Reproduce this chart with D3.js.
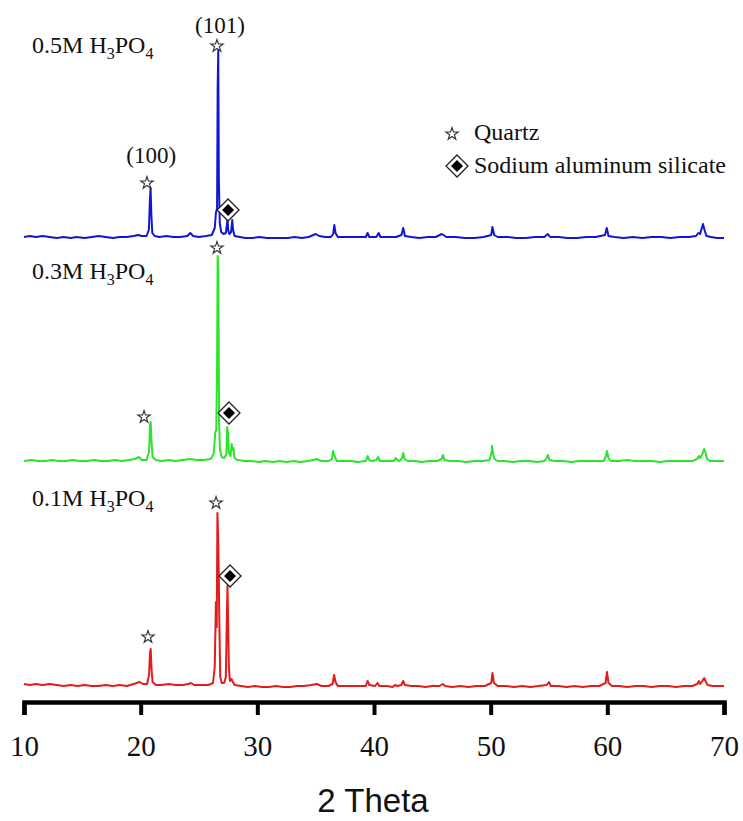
<!DOCTYPE html>
<html>
<head>
<meta charset="utf-8">
<script src="https://cdn.jsdelivr.net/npm/d3@7"></script>
<style>
  body { margin: 0; background: #fff; }
  svg { display: block; }
  .serif { font-family: 'Liberation Serif', 'Times New Roman', serif; fill: #111; }
</style>
</head>
<body>
<div id="chart"></div>
<script>
// XRD patterns, [2theta, intensity a.u. above the pattern's own baseline]
const pattern01 = [[10,3],[10.5,2],[11,3],[11.6,2],[12.2,3],[12.8,2],[13.4,1],[14,2],[14.6,1],[15.2,2],[15.8,1],[16.4,1],[17,2],[17.6,1],[18.2,2],[18.8,1],[19.4,3],[19.9,5],[20.2,3],[20.55,3],[20.72,12],[20.8,34],[20.86,38],[20.93,18],[21.02,5],[21.3,2],[21.8,2],[22.4,3],[23,2],[23.6,2],[24.1,3],[24.3,4],[24.6,2],[25.2,2],[25.8,2],[26.2,4],[26.35,20],[26.45,85],[26.52,60],[26.58,174],[26.64,150],[26.68,122],[26.75,60],[26.82,10],[26.95,4],[27.15,4],[27.3,10],[27.38,64],[27.44,101],[27.5,64],[27.56,20],[27.65,6],[27.8,8],[27.9,5],[28.05,2],[28.6,1],[29.2,0],[29.8,1],[30.4,0],[31,0],[31.6,1],[32.2,0],[32.8,0],[33.4,1],[34,1],[34.6,2],[35.1,3],[35.5,1],[36.1,1],[36.45,3],[36.58,12],[36.7,5],[36.9,1],[37.5,1],[38.1,1],[38.7,1],[39.3,1],[39.45,6],[39.6,2],[40.1,1],[40.3,4],[40.45,1],[41.1,1],[41.6,0],[41.8,2],[42.0,1],[42.35,2],[42.5,6],[42.65,2],[43.2,1],[43.8,1],[44.4,0],[45,1],[45.6,1],[45.9,3],[46.1,1],[46.7,0],[47.4,1],[48.1,0],[48.8,1],[49.5,1],[50.05,4],[50.15,14],[50.28,4],[50.6,1],[51.3,1],[52,0],[52.7,1],[53.4,0],[54.1,1],[54.8,2],[55,5],[55.15,1],[55.8,1],[56.5,0],[57.2,1],[57.9,0],[58.6,1],[59.3,1],[59.85,4],[59.97,15],[60.1,4],[60.4,1],[61,1],[61.7,0],[62.4,1],[63.1,1],[63.8,0],[64.5,1],[65.2,1],[65.9,0],[66.6,1],[67.3,1],[67.7,3],[67.85,6],[67.95,3],[68.15,6],[68.3,9],[68.45,5],[68.6,2],[69,1],[69.5,1],[70,1]]

const pattern03 = [[10,1],[10.6,2],[11.2,1],[11.8,1],[12.4,2],[13,1],[13.6,1],[14.2,2],[14.8,1],[15.4,1],[16,2],[16.6,1],[17.2,1],[17.8,2],[18.4,1],[19,2],[19.5,3],[19.85,5],[20.1,2],[20.5,2],[20.72,10],[20.8,38],[20.86,40],[20.93,20],[21.02,5],[21.3,2],[21.8,1],[22.4,2],[23,1],[23.6,2],[24.2,3],[24.8,2],[25.4,2],[26,3],[26.25,8],[26.4,30],[26.48,32],[26.55,97],[26.6,206],[26.66,190],[26.72,40],[26.8,12],[26.95,5],[27.15,4],[27.35,8],[27.42,35],[27.48,30],[27.55,10],[27.7,6],[27.8,18],[27.87,12],[27.95,14],[28.05,4],[28.3,2],[28.9,1],[29.5,1],[30.1,0],[30.7,1],[31.3,0],[31.9,1],[32.5,0],[33.1,1],[33.7,0],[34.3,1],[34.8,2],[35.1,3],[35.5,1],[36.1,1],[36.4,3],[36.5,11],[36.62,6],[36.8,1],[37.4,1],[38,1],[38.6,0],[39.3,1],[39.45,6],[39.6,2],[39.8,1],[40.2,2],[40.35,5],[40.5,1],[41.2,1],[41.7,1],[41.85,4],[42.0,2],[42.2,1],[42.4,4],[42.5,9],[42.62,3],[42.9,1],[43.5,1],[44.1,0],[44.7,1],[45.4,1],[45.8,3],[45.9,7],[46.05,2],[46.5,1],[47.2,1],[47.9,0],[48.6,1],[49.3,1],[49.9,2],[50.05,8],[50.12,16],[50.2,9],[50.32,3],[50.6,1],[51.2,1],[51.9,0],[52.6,1],[53.3,1],[54,0],[54.6,1],[54.8,4],[54.9,7],[55.05,2],[55.5,1],[56.2,1],[56.9,0],[57.6,1],[58.3,1],[59,1],[59.7,1],[59.88,6],[59.97,11],[60.1,4],[60.3,1],[61,1],[61.7,2],[62.4,1],[63.1,1],[63.8,1],[64.5,0],[65.2,1],[65.9,1],[66.6,1],[67.3,1],[67.7,3],[67.85,6],[67.95,4],[68.15,8],[68.3,13],[68.4,10],[68.55,3],[68.8,1],[69.3,1],[69.8,1],[70,1]]

const pattern05 = [[10,1],[10.5,2],[11,1],[11.6,2],[12.2,1],[12.8,0],[13.4,1],[14,0],[14.5,1],[15.2,0],[15.8,1],[16.4,2],[17,1],[17.6,0],[18.2,1],[18.8,1],[19.4,2],[19.8,3],[20.1,2],[20.5,2],[20.7,8],[20.8,40],[20.85,50],[20.92,22],[21.0,5],[21.2,2],[21.6,1],[22.2,2],[22.8,1],[23.4,1],[24.0,2],[24.25,5],[24.5,2],[25.0,1],[25.6,2],[26.1,3],[26.35,10],[26.45,25],[26.55,30],[26.6,150],[26.65,188],[26.7,60],[26.78,15],[26.9,6],[27.1,4],[27.3,5],[27.38,12],[27.45,19],[27.5,8],[27.6,4],[27.75,6],[27.85,18],[27.92,8],[28.05,2],[28.5,1],[29,0],[29.6,0],[30.2,1],[30.8,0],[31.4,0],[32,0],[32.6,0],[33.2,1],[33.8,0],[34.4,1],[34.8,3],[35.0,4],[35.3,2],[35.8,1],[36.3,1],[36.5,4],[36.6,13],[36.7,5],[36.9,1],[37.5,1],[38.1,1],[38.7,1],[39.3,1],[39.45,5],[39.6,1],[40.2,1],[40.4,5],[40.55,1],[41.2,1],[41.9,1],[42.35,3],[42.5,10],[42.65,2],[43.2,1],[43.9,0],[44.6,1],[45.3,1],[45.8,4],[45.95,3],[46.2,1],[47,1],[47.8,0],[48.6,0],[49.4,1],[50.05,3],[50.15,11],[50.3,3],[50.6,1],[51.4,1],[52.2,0],[53,0],[53.8,1],[54.6,1],[54.9,4],[55.1,1],[55.8,1],[56.6,0],[57.4,0],[58.2,1],[59,1],[59.8,3],[59.95,10],[60.1,2],[60.6,1],[61.4,0],[62.2,1],[63,0],[63.8,1],[64.6,1],[65.4,0],[66.2,1],[67,1],[67.6,2],[67.8,5],[67.95,4],[68.1,10],[68.2,14],[68.35,7],[68.5,2],[68.9,1],[69.4,0],[70,0]]

const seriesNames = ['0.1M', '0.3M', '0.5M']
const seriesOffsets = [15, 240, 464]
const seriesColors = ['#e31b1b', '#2ce42c', '#1414d6']
const seriesData = [pattern01, pattern03, pattern05]
// label anchor per series: [2theta, intensity]
const seriesLabelPos = [[10.69, 181], [10.69, 183], [10.69, 185]]

// phase markers: [series index, 2theta, intensity]
const quartzMarks = [[0, 20.63, 50], [0, 26.46, 184], [1, 20.29, 45], [1, 26.54, 214], [2, 20.54, 55], [2, 26.54, 192]]
const silicateMarks = [[0, 27.66, 111], [1, 27.57, 49], [2, 27.49, 28]]
// hkl labels on the 0.5M pattern: [text, 2theta, intensity]
const hklLabels = [['(100)', 20.9, 75], ['(101)', 26.8, 205]]

const xTicks = [10, 20, 30, 40, 50, 60, 70]
const legendItems = ['Quartz', 'Sodium aluminum silicate']

const W = 743, H = 821
const svg = d3.select('#chart').append('svg')
    .attr('width', W)
    .attr('height', H)

const x = d3.scaleLinear().domain([10, 70]).range([24, 724])
const y = d3.scaleLinear().domain([0, 702]).range([702, 0])

// patterns
const line = d3.line()
    .x(d => x(d[0]))

seriesData.forEach((data, i) => {
    svg.append('path')
        .datum(data)
        .attr('fill', 'none')
        .attr('stroke', seriesColors[i])
        .attr('stroke-width', 2)
        .attr('stroke-linejoin', 'round')
        .attr('d', line.y(d => y(d[1] + seriesOffsets[i])))
})

// series labels with subscripts
function formula(g, px, py, prefix) {
    const t = g.append('text')
        .attr('class', 'serif')
        .attr('x', px)
        .attr('y', py)
        .style('font-size', '24px')
    t.append('tspan').text(prefix + ' H')
    t.append('tspan').attr('dy', 6).style('font-size', '16px').text('3')
    t.append('tspan').attr('dy', -6).text('PO')
    t.append('tspan').attr('dy', 6).style('font-size', '16px').text('4')
}
seriesNames.forEach((name, i) => {
    const p = seriesLabelPos[i]
    formula(svg, x(p[0]), y(p[1] + seriesOffsets[i]), name)
})

// markers
const star = d3.symbol().type(d3.symbolStar).size(48)
function drawStar(px, py) {
    svg.append('path')
        .attr('d', star())
        .attr('transform', `translate(${px},${py})`)
        .attr('fill', '#fff')
        .attr('stroke', '#333')
        .attr('stroke-width', 1.1)
}
function drawDiamond(px, py) {
    const g = svg.append('g').attr('transform', `translate(${px},${py})`)
    g.append('path')
        .attr('d', 'M0,-11L11,0L0,11L-11,0Z')
        .attr('fill', '#fff')
        .attr('stroke', '#222')
        .attr('stroke-width', 1.3)
    g.append('path')
        .attr('d', 'M0,-6L6,0L0,6L-6,0Z')
        .attr('fill', '#000')
}
quartzMarks.forEach(m => drawStar(x(m[1]), y(m[2] + seriesOffsets[m[0]])))
silicateMarks.forEach(m => drawDiamond(x(m[1]), y(m[2] + seriesOffsets[m[0]])))

hklLabels.forEach(l => {
    svg.append('text')
        .attr('class', 'serif')
        .attr('x', x(l[1]))
        .attr('y', y(l[2] + seriesOffsets[2]))
        .attr('text-anchor', 'middle')
        .style('font-size', '23px')
        .text(l[0])
})

// legend
drawStar(452, 134)
drawDiamond(457, 166)
legendItems.forEach((s, i) => {
    svg.append('text')
        .attr('class', 'serif')
        .attr('x', 474)
        .attr('y', 140 + i * 33)
        .style('font-size', '24px')
        .text(s)
})

// x axis
const axis = svg.append('g')
    .attr('transform', 'translate(0,702)')
    .call(d3.axisBottom(x).tickValues(xTicks).tickSize(13).tickSizeOuter(13).tickFormat(d3.format('d')))
axis.select('.domain').attr('stroke', '#000').attr('stroke-width', 4.5)
axis.selectAll('.tick line').attr('stroke', '#000').attr('stroke-width', 4)
axis.selectAll('.tick text')
    .attr('y', 54)
    .attr('dy', null)
    .style('font-family', "'Liberation Serif', 'Times New Roman', serif")
    .style('font-size', '29px')
    .attr('fill', '#111')

svg.append('text')
    .attr('x', 373)
    .attr('y', 812)
    .attr('text-anchor', 'middle')
    .style('font-family', "'Liberation Sans', Arial, sans-serif")
    .style('font-size', '33px')
    .attr('fill', '#111')
    .text('2 Theta')
</script>
</body>
</html>
